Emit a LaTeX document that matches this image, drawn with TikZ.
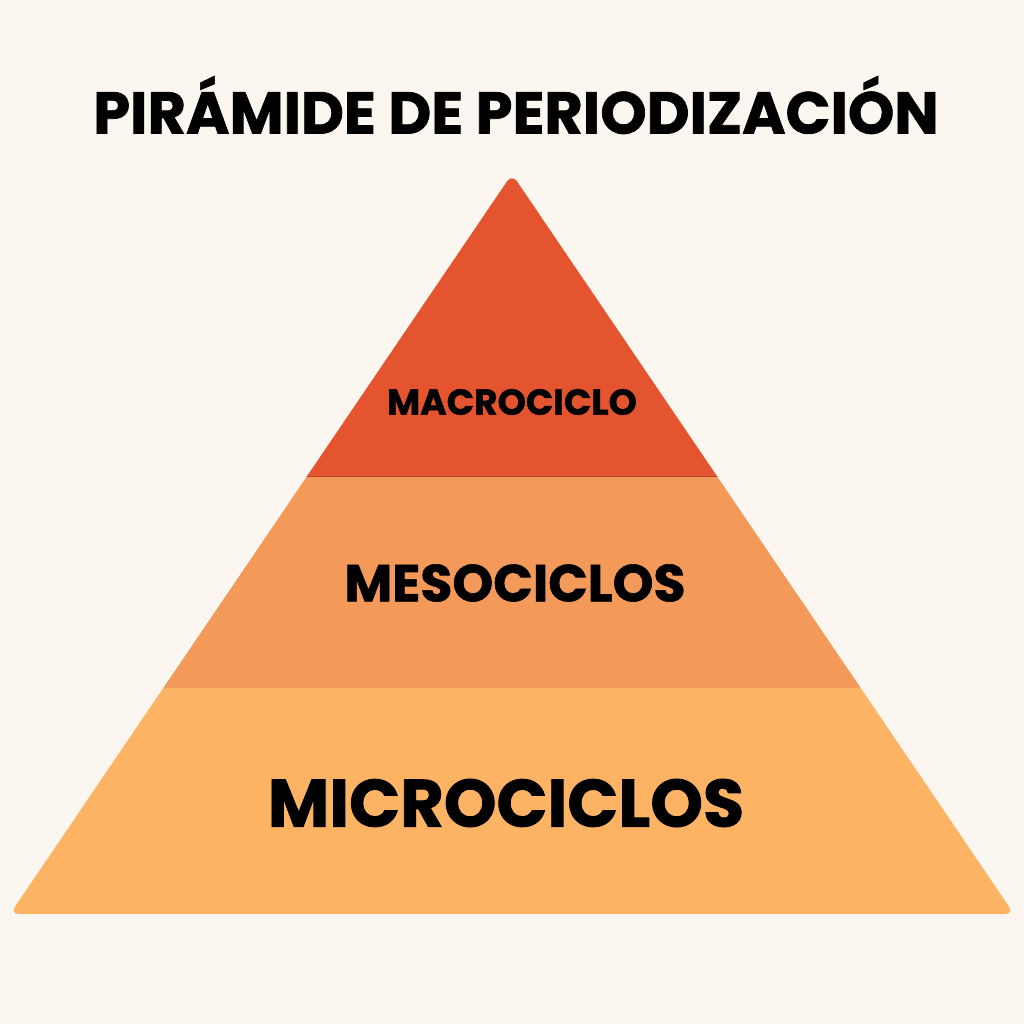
\documentclass[tikz,border=0pt]{standalone}
\usepackage{fontspec}
\setmainfont{Poppins}[UprightFont=* Bold, UprightFeatures={FakeBold=1.2}]
\definecolor{paper}{HTML}{FBF7F0}
\definecolor{macro}{HTML}{E3542F}
\definecolor{meso}{HTML}{F39A5A}
\definecolor{micro}{HTML}{FCB363}
\begin{document}
\begin{tikzpicture}[x=1pt, y=-1pt]
            % Background and page size
            \fill [paper] (0,0) rectangle (1024,1024);
            \useasboundingbox (0,0) rectangle (1024,1024);

            % The title above the pyramid
            \node (title) at (516,105) {\fontsize{59}{62}\selectfont PIRÁMIDE DE PERIODIZACIÓN};

            % The three layers, clipped to a rounded triangle
            \begin{scope}
              \clip [rounded corners=9pt] (512,174) -- (1014,914) -- (10,914) -- cycle;
              \foreach \top/\bot/\col in {150/476/macro, 476/688/meso, 688/920/micro} {
                \fill [\col] (0,\top) rectangle (1024,\bot);
              }
              \draw [macro!80!black, line width=0.6pt] (0,476) -- (1024,476);
            \end{scope}

            % Layer labels
            \node (macro) at (512,402) {\fontsize{36}{40}\selectfont MACROCICLO};
            \node (meso) at (515,583) {\fontsize{52}{56}\selectfont MESOCICLOS};
            \node (micro) at (506,803) {\fontsize{67}{70}\selectfont MICROCICLOS};
\end{tikzpicture}
\end{document}
